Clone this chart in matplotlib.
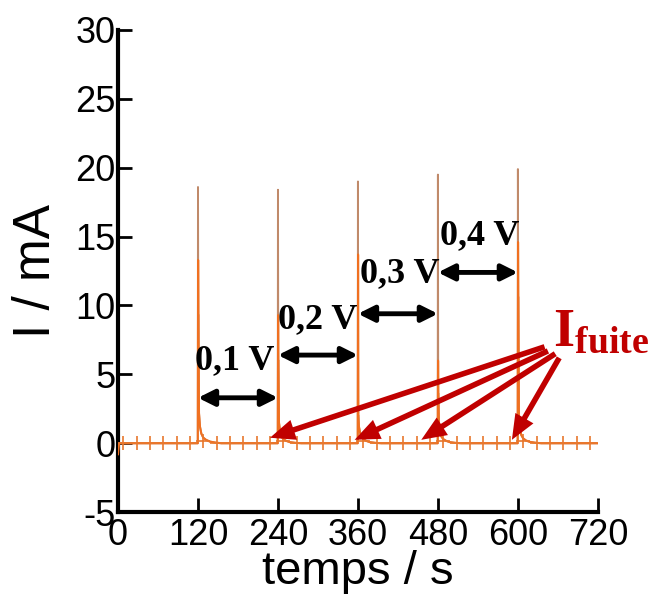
import matplotlib
matplotlib.use("Agg")
import matplotlib.pyplot as plt
import numpy as np

plt.rcParams['font.family'] = ['Liberation Sans', 'DejaVu Sans']
plt.rcParams['mathtext.fontset'] = 'custom'
plt.rcParams['mathtext.rm'] = 'Liberation Serif'
plt.rcParams['mathtext.bf'] = 'Liberation Serif:bold'
plt.rcParams['axes.unicode_minus'] = False

# ---- data ----
pulse_t0 = [120, 240, 360, 480, 600]
peak_brown = [18.6, 18.4, 19.0, 19.5, 19.9]
peak_orange = [13.3, 9.3, 13.7, 6.0, 14.6]
shoulder = [9.3, 6.0, 2.0, 3.6, 10.6]
tail_dt = [1.5, 3, 5, 8, 12, 18, 26]
tail_I = [
    [2.2, 1.2, 0.7, 0.4, 0.25, 0.12, 0.05],
    [1.5, 0.9, 0.5, 0.3, 0.18, 0.08, 0.03],
    [1.2, 0.8, 0.5, 0.3, 0.18, 0.08, 0.03],
    [1.4, 0.8, 0.5, 0.3, 0.18, 0.08, 0.03],
    [2.0, 1.1, 0.6, 0.35, 0.2, 0.1, 0.04],
]
marker_t = [8, 28, 48, 68, 88, 108, 128, 148, 168, 188, 208, 228,
            248, 268, 288, 308, 328, 348, 368, 388, 408, 428, 448, 468,
            488, 508, 528, 548, 568, 588, 608, 628, 648, 668, 688, 708]
marker_I = [0, 0, 0, 0, 0, 0, 0.2, 0, 0, 0, 0, 0,
            0.15, 0, 0, 0, 0, 0, 0.15, 0, 0, 0, 0, 0,
            0.15, 0, 0, 0, 0, 0, 0.2, 0, 0, 0, 0, 0]
start_t = [0, 1.5]
start_I = [-0.8, 0]
end_t = 720

bias_labels = ['0,1 V', '0,2 V', '0,3 V', '0,4 V']
bias_arrow_y = [3.3, 6.4, 9.4, 12.4]
bias_text_pos = [(175, 4.8), (300, 7.8), (422, 11.1), (543, 13.9)]

leak_start = [(640, 7.0), (645, 6.7), (656, 6.5), (662, 6.2)]
leak_end = [(228, 0.4), (355, 0.25), (455, 0.25), (591, 0.25)]

# ---- assemble series ----
bt, bI, ot, oI = list(start_t), list(start_I), list(start_t), list(start_I)
for k, t0 in enumerate(pulse_t0):
    bt += [t0 - 0.3, t0, t0 + 0.4, t0 + 0.9]
    bI += [0, peak_brown[k], shoulder[k], shoulder[k]]
    ot += [t0 - 0.3, t0 + 0.2, t0 + 0.6]
    oI += [0, peak_orange[k], shoulder[k]]
    for dt, v in zip(tail_dt, tail_I[k]):
        bt.append(t0 + dt); bI.append(v)
        ot.append(t0 + dt); oI.append(v)
    bt.append(t0 + 35); bI.append(0)
    ot.append(t0 + 35); oI.append(0)
bt.append(end_t); bI.append(0)
ot.append(end_t); oI.append(0)

fig = plt.figure(figsize=(6.52, 5.99), dpi=100)
ax = fig.add_axes([0.181, 0.145, 0.736, 0.805])

ax.plot(bt, bI, color='#c08a6a', lw=1.4, zorder=2)
ax.plot(ot, oI, color='#f07020', lw=1.5, zorder=3)
ax.plot(marker_t, marker_I, linestyle='none', marker='+', markersize=10,
        markeredgewidth=1.2, color='#e8782e', zorder=3)

ax.set_xlim(0, 720)
ax.set_ylim(-5, 30)
ax.set_xticks([0, 120, 240, 360, 480, 600, 720])
ax.set_yticks([-5, 0, 5, 10, 15, 20, 25, 30])
ax.spines['top'].set_visible(False)
ax.spines['right'].set_visible(False)
for s in ('left', 'bottom'):
    ax.spines[s].set_linewidth(3.0)
ax.tick_params(direction='in', length=10, width=2.0, labelsize=26, pad=2)
ax.tick_params(axis='x', pad=4)
ax.set_xlabel('temps / s', fontsize=34, labelpad=-2)
ax.set_ylabel('I / mA', fontsize=37, labelpad=10)

for k in range(4):
    ax.annotate('', xy=(pulse_t0[k], bias_arrow_y[k]),
                xytext=(pulse_t0[k + 1], bias_arrow_y[k]),
                arrowprops=dict(arrowstyle='<|-|>', color='black', lw=3.5,
                                mutation_scale=24, shrinkA=0, shrinkB=0))
    ax.text(bias_text_pos[k][0], bias_text_pos[k][1], bias_labels[k],
            family='Liberation Serif', fontweight='bold', fontsize=26,
            ha='center', va='bottom', color='black')

for (x0, y0), (x1, y1) in zip(leak_start, leak_end):
    ax.annotate('', xy=(x1, y1), xytext=(x0, y0),
                arrowprops=dict(width=4.0, headwidth=15, headlength=18,
                                color='#c00000', shrink=0, lw=0),
                annotation_clip=False)

ax.text(653, 7.1, r'$\mathbf{I_{fuite}}$', fontsize=39, color='#c00000',
        ha='left', va='baseline', clip_on=False)

fig.savefig('out.png', dpi=100)
